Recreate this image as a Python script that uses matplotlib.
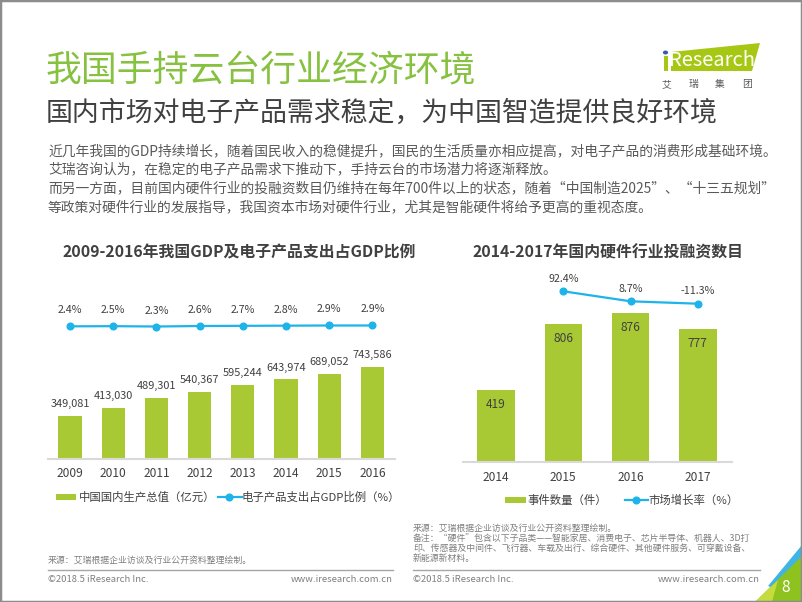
import matplotlib
matplotlib.use("Agg")
import matplotlib.pyplot as plt
from matplotlib.patches import Rectangle, Polygon, Circle
from matplotlib.lines import Line2D

plt.rcParams['font.family'] = ['Noto Sans CJK SC', 'DejaVu Sans']

# ---------------- data ----------------
years_gdp = ['2009', '2010', '2011', '2012', '2013', '2014', '2015', '2016']
gdp_values = [349081, 413030, 489301, 540367, 595244, 643974, 689052, 743586]
elec_share = [2.4, 2.5, 2.3, 2.6, 2.7, 2.8, 2.9, 2.9]

years_hw = ['2014', '2015', '2016', '2017']
hw_deals = [419, 806, 876, 777]
hw_growth_years = [1, 2, 3]
hw_growth = [92.4, 8.7, -11.3]

title = '我国手持云台行业经济环境'
subtitle = '国内市场对电子产品需求稳定，为中国智造提供良好环境'
body_lines = [
    '近几年我国的GDP持续增长，随着国民收入的稳健提升，国民的生活质量亦相应提高，对电子产品的消费形成基础环境。',
    '艾瑞咨询认为，在稳定的电子产品需求下推动下，手持云台的市场潜力将逐渐释放。',
    '而另一方面，目前国内硬件行业的投融资数目仍维持在每年700件以上的状态，随着“中国制造2025”、“十三五规划”',
    '等政策对硬件行业的发展指导，我国资本市场对硬件行业，尤其是智能硬件将给予更高的重视态度。',
]
chart1_title = '2009-2016年我国GDP及电子产品支出占GDP比例'
chart2_title = '2014-2017年国内硬件行业投融资数目'
legend1 = ['中国国内生产总值（亿元）', '电子产品支出占GDP比例（%）']
legend2 = ['事件数量（件）', '市场增长率（%）']
source_left = '来源：艾瑞根据企业访谈及行业公开资料整理绘制。'
notes_right = [
    '来源：艾瑞根据企业访谈及行业公开资料整理绘制。',
    '备注：“硬件”包含以下子品类——智能家居、消费电子、芯片半导体、机器人、3D打',
    '印、传感器及中间件、飞行器、车载及出行、综合硬件、其他硬件服务、可穿戴设备、',
    '新能源新材料。',
]

# ---------------- style ----------------
W, H = 802, 602
GREEN_BAR = '#A9C934'
CYAN = '#1DB4EA'
TITLE_GREEN = '#86C140'
DARK = '#404040'
GRAY = '#595959'
LIGHT = '#7F7F7F'


def fx(x):
    return x / W


def fy(y):
    return 1 - y / H


fig = plt.figure(figsize=(W / 100, H / 100), dpi=100)
fig.patch.set_facecolor('white')


def ftext(x, y, s, **kw):
    fig.text(fx(x), fy(y), s, **kw)


# Titles
ftext(46, 70, title, fontsize=25.8, color=TITLE_GREEN, va='center', ha='left', fontweight='light')
ftext(46, 113, subtitle, fontsize=19.4, color=DARK, va='center', ha='left', fontweight='light')
for i, line in enumerate(body_lines):
    ftext(48, 151 + i * 18.7, line, fontsize=9.9, color=GRAY, va='center', ha='left')

# Logo
fig.patches.append(Polygon([(fx(671), fy(52)), (fx(760), fy(43)), (fx(752), fy(71)), (fx(671), fy(71))],
                           closed=True, transform=fig.transFigure, facecolor='#A6C814', edgecolor='none'))
fig.patches.append(Rectangle((fx(663.5), fy(71)), 4 / W, 15 / H, transform=fig.transFigure,
                             facecolor='#A6C814', edgecolor='none'))
fig.patches.append(Circle((fx(665.5), fy(52.5)), 2.6 / W, transform=fig.transFigure,
                          facecolor='#2C5FA8', edgecolor='none'))
ftext(712, 60, 'Research', fontsize=14.5, color='white', va='center', ha='center')
for cx, ch in zip([666, 693, 720, 747], ['艾', '瑞', '集', '团']):
    ftext(cx, 84, ch, fontsize=7, color=GRAY, va='center', ha='center')

# Chart titles
ftext(239, 252, chart1_title, fontsize=11.4, fontweight='bold', color=DARK, va='center', ha='center')
ftext(608, 252, chart2_title, fontsize=11.4, fontweight='bold', color=DARK, va='center', ha='center')

# ---------------- chart 1 ----------------
base1, top1 = 458.5, 290
ax1 = fig.add_axes([fx(48), fy(base1), (395 - 48) / W, (base1 - top1) / H])
step1 = 43.2
x1 = list(range(len(years_gdp)))
ax1.set_xlim(-(70 - 48) / step1, (395 - 70) / step1)
ax1.set_ylim(0, (base1 - top1) * 8150)
ax1.bar(x1, gdp_values, width=23.3 / step1, color=GREEN_BAR, zorder=2)
for xi, v in zip(x1, gdp_values):
    ax1.annotate(f'{v:,}', (xi, v), xytext=(0, 12 * 0.72), textcoords='offset points',
                 ha='center', va='center', fontsize=7.9, color=DARK)
ax1.set_xticks(x1)
ax1.set_xticklabels(years_gdp, fontsize=8.6, color=DARK)
ax1.tick_params(axis='x', length=0, pad=6)
ax1.set_yticks([])
for s in ['top', 'left', 'right']:
    ax1.spines[s].set_visible(False)
ax1.spines['bottom'].set_color('#D9D9D9')
ax1.spines['bottom'].set_linewidth(1.5)
ax1.patch.set_visible(False)

ax1b = ax1.twinx()
frac = (base1 - 326) / (base1 - top1)
span = 100.0
lo = 2.6 - frac * span
ax1b.set_ylim(lo, lo + span)
ax1b.plot(x1, elec_share, color=CYAN, lw=1.6, marker='o', markersize=4.8, zorder=3)
for xi, v in zip(x1, elec_share):
    ax1b.annotate(f'{v:.1f}%', (xi, v), xytext=(0, 16 * 0.72), textcoords='offset points',
                  ha='center', va='center', fontsize=7.7, color=DARK)
ax1b.set_yticks([])
for s in ['top', 'left', 'right', 'bottom']:
    ax1b.spines[s].set_visible(False)

# legend 1 (drawn at figure level)
fig.patches.append(Rectangle((fx(56), fy(500)), 20 / W, 6 / H, transform=fig.transFigure,
                             facecolor=GREEN_BAR, edgecolor='none'))
ftext(79, 497, legend1[0], fontsize=8.2, color=DARK, va='center', ha='left')
fig.lines.append(Line2D([fx(218), fx(242)], [fy(497), fy(497)], transform=fig.transFigure,
                        color=CYAN, lw=1.6))
fig.lines.append(Line2D([fx(229)], [fy(497)], transform=fig.transFigure, color=CYAN,
                        marker='o', markersize=4.8, lw=0))
ftext(242, 497, legend1[1], fontsize=8.2, color=DARK, va='center', ha='left')

# ---------------- chart 2 ----------------
base2, top2 = 461.5, 270
ax2 = fig.add_axes([fx(463), fy(base2), (732 - 463) / W, (base2 - top2) / H])
step2 = 67.3
x2 = list(range(len(years_hw)))
ax2.set_xlim(-(496 - 463) / step2, (732 - 496) / step2)
ax2.set_ylim(0, (base2 - top2) * 5.88)
ax2.bar(x2, hw_deals, width=37.5 / step2, color=GREEN_BAR, zorder=2)
for xi, v in zip(x2, hw_deals):
    ax2.annotate(f'{v}', (xi, v), xytext=(0, -14.5 * 0.72), textcoords='offset points',
                 ha='center', va='center', fontsize=8.6, color=DARK)
ax2.set_xticks(x2)
ax2.set_xticklabels(years_hw, fontsize=8.6, color=DARK)
ax2.tick_params(axis='x', length=0, pad=6.5)
ax2.set_yticks([])
for s in ['top', 'left', 'right']:
    ax2.spines[s].set_visible(False)
ax2.spines['bottom'].set_color('#D9D9D9')
ax2.spines['bottom'].set_linewidth(1.5)
ax2.patch.set_visible(False)

ax2b = ax2.twinx()
px_per = 8.36
span2 = (base2 - top2) * px_per
frac2 = (base2 - 291.3) / (base2 - top2)
lo2 = 92.4 - frac2 * span2
ax2b.set_ylim(lo2, lo2 + span2)
ax2b.plot(hw_growth_years, hw_growth, color=CYAN, lw=1.6, marker='o', markersize=4.8, zorder=3)
for xi, v in zip(hw_growth_years, hw_growth):
    ax2b.annotate(f'{v:.1f}%', (xi, v), xytext=(0, 12.5 * 0.72), textcoords='offset points',
                  ha='center', va='center', fontsize=7.7, color=DARK)
ax2b.set_yticks([])
for s in ['top', 'left', 'right', 'bottom']:
    ax2b.spines[s].set_visible(False)

# legend 2
fig.patches.append(Rectangle((fx(505), fy(503)), 21 / W, 6 / H, transform=fig.transFigure,
                             facecolor=GREEN_BAR, edgecolor='none'))
ftext(527, 500, legend2[0], fontsize=8.2, color=DARK, va='center', ha='left')
fig.lines.append(Line2D([fx(625), fx(648)], [fy(500), fy(500)], transform=fig.transFigure,
                        color=CYAN, lw=1.6))
fig.lines.append(Line2D([fx(636)], [fy(500)], transform=fig.transFigure, color=CYAN,
                        marker='o', markersize=4.8, lw=0))
ftext(648, 500, legend2[1], fontsize=8.2, color=DARK, va='center', ha='left')

# ---------------- footers ----------------
ftext(48, 560, source_left, fontsize=6.4, color=LIGHT, va='center', ha='left')
for i, line in enumerate(notes_right):
    ftext(413, 528 + i * 10, line, fontsize=6.4, color=LIGHT, va='center', ha='left')
fig.lines.append(Line2D([fx(48), fx(393)], [fy(570), fy(570)], transform=fig.transFigure,
                        color='#A6A6A6', lw=1))
fig.lines.append(Line2D([fx(413), fx(760)], [fy(570), fy(570)], transform=fig.transFigure,
                        color='#A6A6A6', lw=1))
ftext(48, 580, '©2018.5 iResearch Inc.', fontsize=6.8, color=LIGHT, va='center', ha='left')
ftext(393, 580, 'www.iresearch.com.cn', fontsize=6.8, color=LIGHT, va='center', ha='right')
ftext(413, 580, '©2018.5 iResearch Inc.', fontsize=6.8, color=LIGHT, va='center', ha='left')
ftext(760, 580, 'www.iresearch.com.cn', fontsize=6.8, color=LIGHT, va='center', ha='right')

# corner decoration
fig.patches.append(Polygon([(fx(768), fy(586)), (fx(802), fy(545)), (fx(802), fy(560)), (fx(778), fy(590))],
                           closed=True, transform=fig.transFigure, facecolor='#3FB4E5', edgecolor='none'))
fig.patches.append(Polygon([(fx(755), fy(602)), (fx(802), fy(556)), (fx(802), fy(602))],
                           closed=True, transform=fig.transFigure, facecolor='#8DC21F', edgecolor='none'))
fig.patches.append(Polygon([(fx(755), fy(602)), (fx(778), fy(580)), (fx(772), fy(602))],
                           closed=True, transform=fig.transFigure, facecolor='#C5DC3A', edgecolor='none'))
ftext(786, 588, '8', fontsize=11, color='white', va='center', ha='center')

# border
fig.patches.append(Rectangle((0, 0), 1, 1, transform=fig.transFigure, facecolor='none',
                             edgecolor='#8C8C8C', lw=2.5))

fig.savefig('out.png', dpi=100)
